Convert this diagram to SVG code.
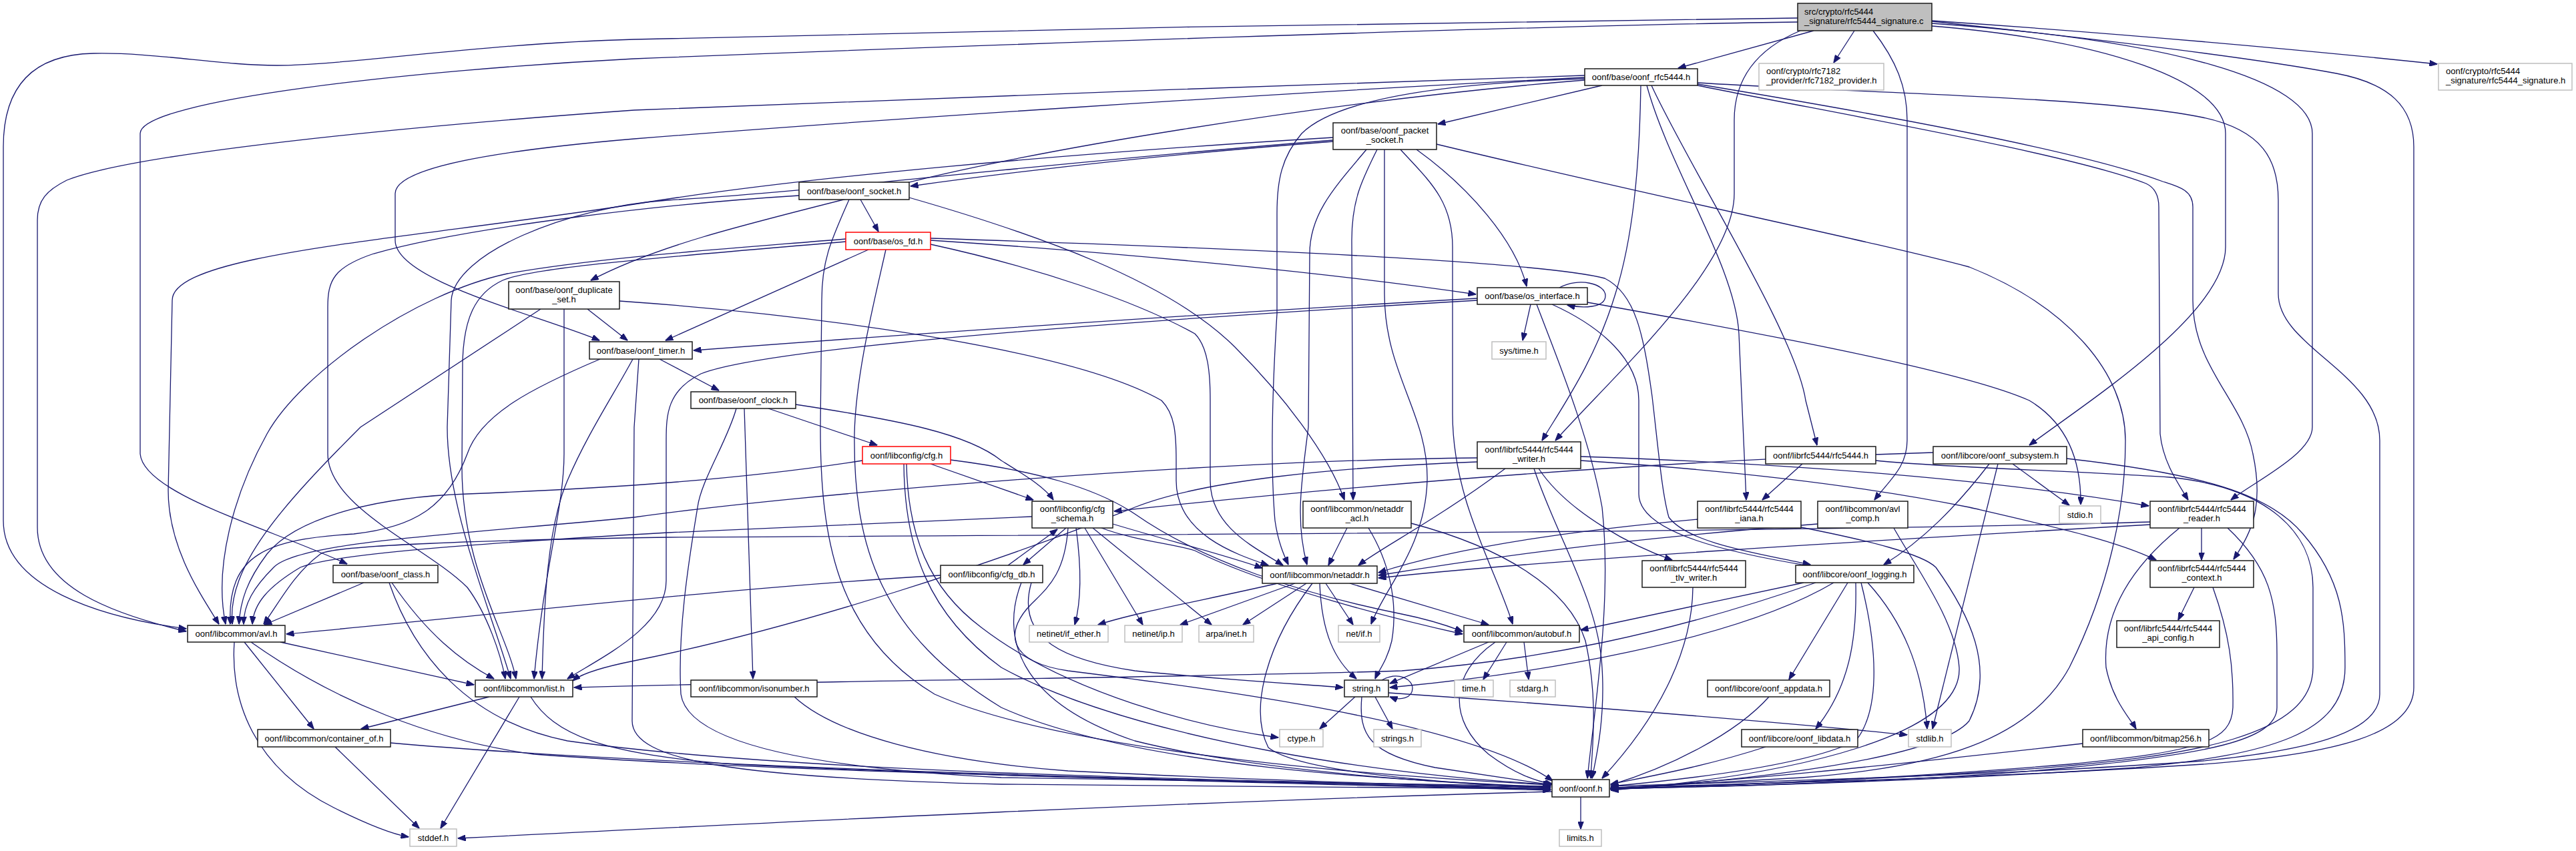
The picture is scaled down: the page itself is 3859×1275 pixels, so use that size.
<svg xmlns="http://www.w3.org/2000/svg" width="3859" height="1275" viewBox="0 0 3859 1275">
<defs>
<style>
text{font-family:"Liberation Sans",Arial,Helvetica,sans-serif;font-size:13px;fill:#000}
.node rect{fill:#fff;stroke:#1a1a1a;stroke-width:1.5}
.node.ext rect{stroke:#bfbfbf}
.node.red rect{stroke:#ff0000}
.node.root rect{fill:#bfbfbf;stroke:#1a1a1a}
.c text{text-anchor:middle}
#edges path{fill:none;stroke:#191970;stroke-width:1.3;marker-end:url(#arr)}
</style>
<marker id="arr" viewBox="0 0 12 9" refX="11.5" refY="4.5" markerWidth="12" markerHeight="9" markerUnits="userSpaceOnUse" orient="auto">
<path d="M0,0 L12,4.5 L0,9 Z" fill="#191970" stroke="#191970" stroke-width="1"/>
</marker>
</defs>
<rect x="0" y="0" width="3859" height="1275" fill="#fff"/>
<g id="edges">
<path d="M2717,46 L2514,102"/>
<path d="M2778,46 L2747,94"/>
<path d="M2894,31 C3200,52 3480,78 3651,96"/>
<path d="M2693,27 C2300,29 1400,47 950,59 C720,65 520,98 415,98 C330,98 230,78 140,80 C40,82 5,140 5,220 L5,780 C5,880 150,925 279,942"/>
<path d="M2693,33 C2300,38 1400,70 950,88 C620,105 210,150 210,200 L210,680 C215,740 400,790 520,845"/>
<path d="M2806,46 C2840,90 2857,130 2857,180 L2857,660 C2857,700 2830,720 2808,749"/>
<path d="M2894,39 C3150,60 3334,120 3334,200 L3334,370 C3334,470 3130,600 3040,667"/>
<path d="M2894,35 C3250,60 3464,120 3464,200 L3464,640 C3464,680 3380,720 3342,749"/>
<path d="M2894,32 C3250,70 3420,95 3500,110 C3580,125 3616,160 3616,220 L3616,1030 C3616,1100 3500,1130 3300,1145 C3000,1165 2600,1175 2413,1180"/>
<path d="M2697,46 C2640,70 2598,110 2598,180 L2598,290 C2598,400 2420,560 2330,660"/>
<path d="M2400,128 L2154,186"/>
<path d="M2458,128 C2456,260 2445,360 2420,440 C2390,540 2340,610 2310,660"/>
<path d="M2467,128 C2500,250 2600,400 2605,500 L2616,749"/>
<path d="M2474,128 C2530,250 2690,500 2705,600 L2722,667"/>
<path d="M2543,124 C2800,140 3150,145 3300,176 C3390,195 3413,240 3413,300 L3413,440 C3413,520 3565,560 3565,660 L3565,1040 C3565,1100 3450,1125 3300,1140 C3000,1162 2600,1172 2413,1178"/>
<path d="M2543,126 C2750,160 3100,220 3240,272 C3265,280 3285,285 3285,310 L3285,450 C3285,550 3360,600 3375,680 C3392,760 3372,800 3346,838"/>
<path d="M2543,128 C2750,170 3100,230 3215,275 C3230,282 3234,295 3234,310 L3236,650 C3240,690 3260,720 3278,749"/>
<path d="M2374,113 C1950,127 1300,150 950,165 C600,190 200,230 100,270 C70,285 56,300 56,330 L56,790 C56,880 170,920 279,946"/>
<path d="M2374,116 C1900,140 1300,180 950,208 C750,225 592,250 592,290 L592,360 C592,420 800,470 898,510"/>
<path d="M2374,120 C2000,150 1500,230 1300,290 C1100,340 980,370 885,420"/>
<path d="M2374,118 C2150,125 2000,150 1950,200 C1920,235 1913,270 1913,320 L1913,470 C1905,600 1903,700 1910,780 C1915,815 1925,835 1930,846"/>
<path d="M1997,212 C1700,235 1500,260 1364,279"/>
<path d="M1997,206 C1600,230 1200,265 950,306 C600,360 258,380 258,450 L252,735 C252,820 300,890 328,935"/>
<path d="M2047,224 C2000,280 1962,320 1962,380 L1960,640 C1950,720 1940,780 1958,846"/>
<path d="M2063,224 C2040,270 2025,300 2025,360 L2027,749"/>
<path d="M2074,224 L2074,440 C2074,560 2140,620 2138,720 C2135,820 2075,880 2054,935"/>
<path d="M2098,224 C2140,270 2176,300 2176,370 L2176,620 C2176,750 2240,850 2266,935"/>
<path d="M2122,224 C2200,280 2270,360 2287,429"/>
<path d="M2152,216 C2500,300 2800,360 2950,400 C3100,460 3184,560 3184,660 C3184,760 3160,880 3100,1000 C3040,1110 2900,1150 2700,1165 L2413,1181"/>
<path d="M1289,299 L1316,347"/>
<path d="M1362,296 C1550,350 1750,420 1850,520 C1920,590 1990,680 2014,749"/>
<path d="M1197,293 C1000,305 700,340 560,380 C500,400 491,420 491,460 L491,680 C491,760 640,820 700,880 C730,920 750,980 757,1017"/>
<path d="M1997,210 C1500,250 1250,285 1000,300 C850,310 680,380 676,450 L670,640 C670,760 730,900 765,1017"/>
<path d="M1272,299 C1245,360 1231,390 1231,450 L1229,640 C1229,800 1250,950 1400,1040 C1600,1130 2100,1165 2323,1176"/>
<path d="M1301,374 L997,510"/>
<path d="M1267,358 C1100,372 900,385 760,410 C620,440 450,560 400,650 C350,740 320,850 338,935"/>
<path d="M1267,362 C1000,385 800,400 753,420 C710,440 695,480 693,540 L692,700 C692,850 760,950 773,1017"/>
<path d="M1327,374 C1310,450 1282,560 1280,650 C1278,820 1320,950 1500,1060 C1700,1150 2100,1170 2323,1179"/>
<path d="M1394,360 C1700,380 2000,410 2211,441"/>
<path d="M1394,357 C1800,370 2300,390 2404,417 C2450,440 2462,500 2475,594 C2485,680 2490,740 2500,775 C2530,815 2640,830 2712,846"/>
<path d="M1394,366 C1550,400 1700,450 1790,500 C1810,520 1813,560 1813,600 L1813,720 C1813,790 1880,820 1922,847"/>
<path d="M880,463 L940,510"/>
<path d="M810,463 L540,640 C420,760 340,850 348,935"/>
<path d="M845,463 L845,680 C845,760 815,850 800,1017"/>
<path d="M928,451 C1200,470 1600,520 1740,600 C1760,620 1762,650 1762,690 L1762,720 C1762,800 1850,830 1900,847"/>
<path d="M2336,431 C2365,415 2405,425 2405,443 C2405,462 2370,462 2348,457"/>
<path d="M2293,456 L2281,510"/>
<path d="M2302,456 C2330,530 2380,650 2400,760 C2415,900 2390,1050 2378,1166"/>
<path d="M2325,456 C2400,490 2455,540 2455,600 L2455,740 C2455,800 2600,830 2712,848"/>
<path d="M2378,453 C2700,510 2950,560 3040,600 C3090,630 3118,680 3117,756"/>
<path d="M2213,447 C1800,470 1300,505 1039,525"/>
<path d="M2213,450 C1700,480 1150,520 1050,560 C1000,585 998,620 998,660 L998,870 C998,940 900,985 850,1017"/>
<path d="M988,538 L1077,585"/>
<path d="M899,538 C800,580 720,620 700,680 C670,760 620,790 530,800 C400,808 340,830 345,935"/>
<path d="M948,538 C920,590 880,650 850,720 C820,790 815,900 812,1017"/>
<path d="M957,538 L950,640 L947,1080 C947,1140 1100,1165 1500,1175 L2323,1182"/>
<path d="M1151,612 L1314,667"/>
<path d="M1192,606 C1350,630 1450,650 1500,690 C1540,715 1565,730 1578,749"/>
<path d="M1115,612 L1128,1017"/>
<path d="M1103,612 C1090,660 1050,720 1045,760 C1030,850 1015,950 1020,1040 C1030,1110 1200,1150 1500,1165 L2323,1178"/>
<path d="M1394,695 L1548,749"/>
<path d="M1292,690 C1100,720 900,732 700,740 C550,745 440,780 400,830 C370,870 360,900 358,935"/>
<path d="M1358,695 C1360,800 1390,880 1470,940 C1600,1040 1800,1090 1915,1105"/>
<path d="M1354,695 C1355,820 1390,920 1500,1000 C1700,1110 2100,1165 2323,1175"/>
<path d="M1424,689 C1550,705 1640,730 1700,770 C1800,840 1950,890 2100,920 C2150,930 2175,940 2191,946"/>
<path d="M1597,791 L1533,846"/>
<path d="M1510,847 L1584,793"/>
<path d="M1612,791 C1620,850 1620,900 1610,936"/>
<path d="M1625,791 L1712,936"/>
<path d="M1637,791 L1815,936"/>
<path d="M1667,785 C1750,810 1830,830 1891,851"/>
<path d="M1650,791 C1700,810 1760,815 1790,825 C1900,880 2100,930 2191,950"/>
<path d="M1546,774 C1300,785 1100,792 1000,798 C700,815 500,830 450,850 C400,880 380,905 378,935"/>
<path d="M1600,791 C1595,860 1570,880 1545,905 C1510,940 1500,990 1600,1005 C1800,1030 2200,1080 2326,1170"/>
<path d="M1409,862 C1100,880 700,925 429,950"/>
<path d="M1530,873 C1500,950 1520,1050 1700,1110 C1900,1160 2200,1175 2323,1180"/>
<path d="M1545,873 C1520,960 1600,990 1700,1005 C1850,1020 1950,1025 2012,1030"/>
<path d="M2018,791 L1990,847"/>
<path d="M2050,791 C2080,840 2095,900 2085,960 C2078,990 2065,1005 2060,1017"/>
<path d="M2114,784 C2250,820 2350,880 2375,960 C2395,1050 2385,1120 2383,1166"/>
<path d="M1914,874 C1800,900 1700,918 1645,936"/>
<path d="M1940,874 L1768,936"/>
<path d="M1957,874 L1862,936"/>
<path d="M1986,874 L2027,936"/>
<path d="M1977,874 C1980,950 2000,990 2032,1017"/>
<path d="M2022,874 L2230,936"/>
<path d="M1966,874 C1900,960 1870,1060 1900,1120 C1950,1160 2200,1175 2323,1181"/>
<path d="M2543,778 C2300,800 2150,830 2065,858"/>
<path d="M2698,790 C2800,810 2880,830 2900,850 C2950,920 2990,1000 2950,1080 C2900,1140 2600,1170 2413,1183"/>
<path d="M2723,785 C2400,810 2200,840 2065,862"/>
<path d="M2837,791 C2870,850 2930,930 2935,1000 C2940,1100 2700,1160 2413,1184"/>
<path d="M2700,695 L2640,749"/>
<path d="M2810,690 C2900,700 3100,705 3250,715 C3400,730 3465,800 3465,880 L3465,1000 C3465,1100 3300,1135 3000,1155 C2800,1168 2550,1178 2413,1182"/>
<path d="M2896,678 C2500,690 2100,720 1669,766"/>
<path d="M3015,695 L3100,757"/>
<path d="M2993,695 L2895,1092"/>
<path d="M2980,695 C2930,760 2880,810 2822,846"/>
<path d="M3096,687 C3300,710 3400,740 3450,800 C3510,870 3513,930 3513,1000 C3513,1100 3400,1130 3200,1150 C2900,1170 2600,1178 2413,1182"/>
<path d="M2702,873 L2368,944"/>
<path d="M2720,873 C2500,950 2300,990 2100,1005 C1800,1015 1200,1020 860,1030"/>
<path d="M2747,873 C2600,960 2300,1010 2082,1030"/>
<path d="M2768,873 L2680,1018"/>
<path d="M2780,873 C2782,960 2770,1030 2720,1092"/>
<path d="M2798,873 C2850,930 2880,1000 2887,1092"/>
<path d="M2788,873 C2810,960 2820,1060 2780,1110 C2700,1150 2500,1170 2413,1178"/>
<path d="M2650,1044 C2600,1100 2500,1150 2413,1176"/>
<path d="M2645,1119 C2550,1150 2460,1165 2413,1175"/>
<path d="M2255,702 C2150,780 2070,820 2035,847"/>
<path d="M2305,702 C2350,770 2450,820 2505,839"/>
<path d="M2298,702 C2330,800 2395,900 2400,1000 C2405,1080 2390,1140 2385,1166"/>
<path d="M2368,690 C2600,705 2800,730 2950,760 C3080,790 3170,810 3230,839"/>
<path d="M2368,684 C2700,695 3000,720 3219,758"/>
<path d="M2213,686 C1800,690 1200,740 950,775 C700,800 450,810 410,850 C380,880 365,905 365,935"/>
<path d="M2213,692 C2000,700 1800,720 1700,760 C1500,840 1200,940 950,990 C900,1000 870,1010 858,1020"/>
<path d="M2536,880 C2535,980 2480,1080 2400,1166"/>
<path d="M3298,791 L3298,839"/>
<path d="M3265,791 C3180,860 3150,930 3155,1000 C3165,1050 3190,1075 3200,1092"/>
<path d="M3221,782 C2800,795 2000,800 1000,805 C800,808 500,815 480,830 C440,860 420,900 395,935"/>
<path d="M3221,786 C2800,810 2300,840 2065,866"/>
<path d="M3337,791 C3400,850 3411,900 3411,980 L3411,1060 C3411,1110 3300,1130 3100,1150 C2900,1170 2600,1178 2413,1182"/>
<path d="M3287,880 L3263,929"/>
<path d="M3315,880 C3340,950 3346,1000 3345,1060 C3343,1110 3300,1125 3100,1145 C2800,1170 2550,1178 2413,1182"/>
<path d="M3120,1114 C2800,1150 2600,1170 2413,1181"/>
<path d="M420,962 L710,1026"/>
<path d="M366,962 L470,1092"/>
<path d="M351,962 C345,1050 380,1150 500,1210 C560,1240 590,1250 612,1254"/>
<path d="M376,962 C500,1050 650,1110 800,1130 C1200,1160 1900,1170 2323,1183"/>
<path d="M733,1044 L541,1092"/>
<path d="M778,1044 L660,1241"/>
<path d="M795,1044 C830,1100 900,1130 1100,1145 C1500,1165 2000,1175 2323,1184"/>
<path d="M545,873 L396,936"/>
<path d="M587,873 C640,950 690,990 740,1017"/>
<path d="M583,873 C620,980 700,1080 850,1110 C1200,1160 1900,1170 2323,1180"/>
<path d="M502,1119 L628,1241"/>
<path d="M585,1113 C1000,1150 1800,1170 2323,1182"/>
<path d="M1190,1044 C1250,1100 1400,1140 1600,1155 C1900,1170 2200,1178 2323,1182"/>
<path d="M2070,1019 C2095,1005 2116,1018 2116,1031 C2116,1046 2098,1050 2082,1044"/>
<path d="M2030,1044 L1977,1092"/>
<path d="M2060,1044 L2086,1092"/>
<path d="M2040,1044 C2035,1100 2050,1130 2150,1150 C2250,1165 2300,1172 2324,1176"/>
<path d="M2080,1038 C2400,1060 2700,1085 2857,1101"/>
<path d="M2230,962 L2082,1024"/>
<path d="M2257,962 L2222,1018"/>
<path d="M2283,962 L2290,1018"/>
<path d="M2240,962 C2170,1010 2170,1080 2230,1130 C2270,1160 2300,1170 2326,1175"/>
<path d="M2368,1194 L2368,1242"/>
<path d="M2325,1186 C1800,1200 1200,1230 686,1256"/>
</g>
<g id="n0" class="node root"><rect x="2693" y="5" width="201" height="41"/><text x="2703" y="21.6">src/crypto/rfc5444</text><text x="2703" y="36">_signature/rfc5444_signature.c</text></g>
<g id="n1" class="node c"><rect x="2374" y="103" width="169" height="25"/><text x="2458.5" y="120">oonf/base/oonf_rfc5444.h</text></g>
<g id="n2" class="node ext"><rect x="2635" y="95" width="187" height="40"/><text x="2646" y="111.1">oonf/crypto/rfc7182</text><text x="2646" y="125.4">_provider/rfc7182_provider.h</text></g>
<g id="n3" class="node ext"><rect x="3653" y="95" width="200" height="40"/><text x="3664" y="111.1">oonf/crypto/rfc5444</text><text x="3664" y="125.4">_signature/rfc5444_signature.h</text></g>
<g id="n4" class="node c"><rect x="1997" y="184" width="155" height="40"/><text x="2074.5" y="200.1">oonf/base/oonf_packet</text><text x="2074.5" y="214.4">_socket.h</text></g>
<g id="n5" class="node c"><rect x="1197" y="273" width="165" height="26"/><text x="1279.5" y="290.5">oonf/base/oonf_socket.h</text></g>
<g id="n6" class="node c red"><rect x="1267" y="348" width="127" height="26"/><text x="1330.5" y="365.5">oonf/base/os_fd.h</text></g>
<g id="n7" class="node c"><rect x="762" y="422" width="166" height="41"/><text x="845" y="438.6">oonf/base/oonf_duplicate</text><text x="845" y="452.9">_set.h</text></g>
<g id="n8" class="node c"><rect x="2213" y="431" width="165" height="25"/><text x="2295.5" y="448">oonf/base/os_interface.h</text></g>
<g id="n9" class="node c ext"><rect x="2235" y="512" width="81" height="26"/><text x="2275.5" y="529.5">sys/time.h</text></g>
<g id="n10" class="node c"><rect x="883" y="512" width="154" height="26"/><text x="960" y="529.5">oonf/base/oonf_timer.h</text></g>
<g id="n11" class="node c"><rect x="1035" y="587" width="157" height="25"/><text x="1113.5" y="604">oonf/base/oonf_clock.h</text></g>
<g id="n12" class="node c red"><rect x="1292" y="669" width="132" height="26"/><text x="1358" y="686.5">oonf/libconfig/cfg.h</text></g>
<g id="n13" class="node c"><rect x="2213" y="662" width="155" height="40"/><text x="2290.5" y="678.1">oonf/librfc5444/rfc5444</text><text x="2290.5" y="692.4">_writer.h</text></g>
<g id="n14" class="node c"><rect x="2645" y="669" width="165" height="26"/><text x="2727.5" y="686.5">oonf/librfc5444/rfc5444.h</text></g>
<g id="n15" class="node c"><rect x="2896" y="669" width="200" height="26"/><text x="2996" y="686.5">oonf/libcore/oonf_subsystem.h</text></g>
<g id="n16" class="node c"><rect x="1546" y="751" width="121" height="40"/><text x="1606.5" y="767.1">oonf/libconfig/cfg</text><text x="1606.5" y="781.4">_schema.h</text></g>
<g id="n17" class="node c"><rect x="1952" y="751" width="162" height="40"/><text x="2033" y="767.1">oonf/libcommon/netaddr</text><text x="2033" y="781.4">_acl.h</text></g>
<g id="n18" class="node c"><rect x="2543" y="751" width="155" height="40"/><text x="2620.5" y="767.1">oonf/librfc5444/rfc5444</text><text x="2620.5" y="781.4">_iana.h</text></g>
<g id="n19" class="node c"><rect x="2723" y="751" width="135" height="40"/><text x="2790.5" y="767.1">oonf/libcommon/avl</text><text x="2790.5" y="781.4">_comp.h</text></g>
<g id="n20" class="node c ext"><rect x="3085" y="758" width="62" height="26"/><text x="3116" y="775.5">stdio.h</text></g>
<g id="n21" class="node c"><rect x="3221" y="751" width="155" height="40"/><text x="3298.5" y="767.1">oonf/librfc5444/rfc5444</text><text x="3298.5" y="781.4">_reader.h</text></g>
<g id="n22" class="node c"><rect x="499" y="847" width="157" height="26"/><text x="577.5" y="864.5">oonf/base/oonf_class.h</text></g>
<g id="n23" class="node c"><rect x="1409" y="847" width="153" height="26"/><text x="1485.5" y="864.5">oonf/libconfig/cfg_db.h</text></g>
<g id="n24" class="node c"><rect x="1891" y="848" width="172" height="26"/><text x="1977" y="865.5">oonf/libcommon/netaddr.h</text></g>
<g id="n25" class="node c"><rect x="2460" y="840" width="155" height="40"/><text x="2537.5" y="856.1">oonf/librfc5444/rfc5444</text><text x="2537.5" y="870.4">_tlv_writer.h</text></g>
<g id="n26" class="node c"><rect x="2690" y="847" width="177" height="26"/><text x="2778.5" y="864.5">oonf/libcore/oonf_logging.h</text></g>
<g id="n27" class="node c"><rect x="3221" y="840" width="155" height="40"/><text x="3298.5" y="856.1">oonf/librfc5444/rfc5444</text><text x="3298.5" y="870.4">_context.h</text></g>
<g id="n28" class="node c"><rect x="281" y="937" width="146" height="25"/><text x="354" y="954">oonf/libcommon/avl.h</text></g>
<g id="n29" class="node c ext"><rect x="1542" y="937" width="118" height="25"/><text x="1601" y="954">netinet/if_ether.h</text></g>
<g id="n30" class="node c ext"><rect x="1685" y="937" width="86" height="25"/><text x="1728" y="954">netinet/ip.h</text></g>
<g id="n31" class="node c ext"><rect x="1796" y="937" width="82" height="25"/><text x="1837" y="954">arpa/inet.h</text></g>
<g id="n32" class="node c ext"><rect x="2005" y="937" width="62" height="25"/><text x="2036" y="954">net/if.h</text></g>
<g id="n33" class="node c"><rect x="2193" y="937" width="173" height="25"/><text x="2279.5" y="954">oonf/libcommon/autobuf.h</text></g>
<g id="n34" class="node c"><rect x="3171" y="930" width="154" height="40"/><text x="3248" y="946.1">oonf/librfc5444/rfc5444</text><text x="3248" y="960.4">_api_config.h</text></g>
<g id="n35" class="node c"><rect x="712" y="1019" width="146" height="25"/><text x="785" y="1036">oonf/libcommon/list.h</text></g>
<g id="n36" class="node c"><rect x="1035" y="1019" width="189" height="25"/><text x="1129.5" y="1036">oonf/libcommon/isonumber.h</text></g>
<g id="n37" class="node c"><rect x="2014" y="1019" width="66" height="25"/><text x="2047" y="1036">string.h</text></g>
<g id="n38" class="node c ext"><rect x="2179" y="1019" width="58" height="25"/><text x="2208" y="1036">time.h</text></g>
<g id="n39" class="node c ext"><rect x="2262" y="1019" width="68" height="25"/><text x="2296" y="1036">stdarg.h</text></g>
<g id="n40" class="node c"><rect x="2558" y="1019" width="183" height="25"/><text x="2649.5" y="1036">oonf/libcore/oonf_appdata.h</text></g>
<g id="n41" class="node c"><rect x="386" y="1093" width="199" height="26"/><text x="485.5" y="1110.5">oonf/libcommon/container_of.h</text></g>
<g id="n42" class="node c ext"><rect x="1917" y="1093" width="65" height="26"/><text x="1949.5" y="1110.5">ctype.h</text></g>
<g id="n43" class="node c ext"><rect x="2058" y="1093" width="71" height="26"/><text x="2093.5" y="1110.5">strings.h</text></g>
<g id="n44" class="node c"><rect x="2609" y="1093" width="174" height="26"/><text x="2696" y="1110.5">oonf/libcore/oonf_libdata.h</text></g>
<g id="n45" class="node c ext"><rect x="2859" y="1093" width="64" height="26"/><text x="2891" y="1110.5">stdlib.h</text></g>
<g id="n46" class="node c"><rect x="3120" y="1093" width="189" height="26"/><text x="3214.5" y="1110.5">oonf/libcommon/bitmap256.h</text></g>
<g id="n47" class="node c"><rect x="2325" y="1168" width="86" height="26"/><text x="2368" y="1185.5">oonf/oonf.h</text></g>
<g id="n48" class="node c ext"><rect x="2336" y="1243" width="63" height="25"/><text x="2367.5" y="1260">limits.h</text></g>
<g id="n49" class="node c ext"><rect x="614" y="1242" width="70" height="26"/><text x="649" y="1259.5">stddef.h</text></g>
</svg>
